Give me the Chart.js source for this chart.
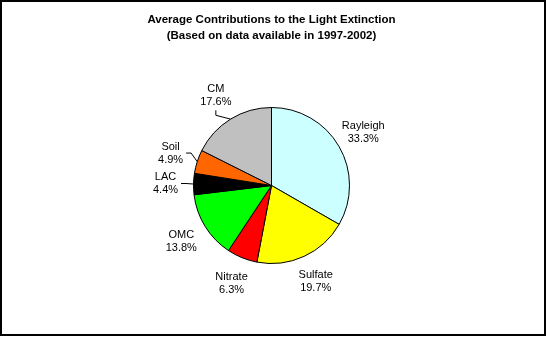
<!DOCTYPE html>
<html>
<head>
<meta charset="utf-8">
<script src="https://cdn.jsdelivr.net/npm/chart.js@4.4.1/dist/chart.umd.min.js"></script>
<style>
  html, body { margin: 0; padding: 0; background: #fff; }
  canvas { display: block; }
</style>
</head>
<body>
<canvas id="extincionChart" width="546" height="338"></canvas>
<script>
// Componentes y su aporte (%) a la extinción de luz
const componentes = ['Rayleigh', 'Sulfate', 'Nitrate', 'OMC', 'LAC', 'Soil', 'CM'];
const aportes = [33.3, 19.7, 6.3, 13.8, 4.4, 4.9, 17.6];
const colores = ['#CCFFFF', '#FFFF00', '#FF0000', '#00FF00', '#000000', '#FF6600', '#C0C0C0'];
const titulo = ['Average Contributions to the Light Extinction', '(Based on data available in 1997-2002)'];
// Etiquetas que llevan línea guía hasta su porción
const conLinea = ['CM', 'Soil', 'LAC'];

const fuente = "'Liberation Sans', Arial, sans-serif";

// Etiquetas fuera del pastel: nombre y porcentaje
const etiquetasPlugin = {
    id: 'etiquetas',
    afterDatasetsDraw(chart) {
        const ctx = chart.ctx;
        const meta = chart.getDatasetMeta(0);
        ctx.save();
        ctx.font = '11px ' + fuente;
        ctx.fillStyle = '#000';
        ctx.textAlign = 'center';
        ctx.textBaseline = 'middle';
        meta.data.forEach((arco, i) => {
            const p = arco.getProps(['x', 'y', 'startAngle', 'endAngle', 'outerRadius'], true);
            const medio = (p.startAngle + p.endAngle) / 2;
            const cos = Math.cos(medio), sin = Math.sin(medio);
            const r = p.outerRadius;
            const dist = r + 28;
            const lx = p.x + cos * dist;
            const ly = p.y + sin * dist;
            const linea1 = componentes[i];
            const linea2 = aportes[i].toFixed(1) + '%';
            ctx.fillText(linea1, lx, ly - 6.5);
            ctx.fillText(linea2, lx, ly + 6.5);

            if (conLinea.includes(componentes[i])) {
                // línea guía: sale del lado de la etiqueta más cercano al pastel
                const w = Math.max(ctx.measureText(linea1).width, ctx.measureText(linea2).width);
                const x0 = p.x + cos * r, y0 = p.y + sin * r;
                let sx, sy, tx, ty;
                if (Math.abs(cos) >= Math.abs(sin)) {
                    const lado = cos < 0 ? 1 : -1;
                    sx = lx + lado * (w / 2 + 3); sy = ly;
                    tx = sx + lado * 5; ty = sy;
                } else {
                    const lado = sin < 0 ? 1 : -1;
                    sx = lx; sy = ly + lado * 15;
                    tx = sx; ty = sy + lado * 5;
                }
                ctx.strokeStyle = '#000';
                ctx.lineWidth = 1;
                ctx.beginPath();
                ctx.moveTo(sx, sy);
                ctx.lineTo(tx, ty);
                ctx.lineTo(x0, y0);
                ctx.stroke();
            }
        });
        ctx.restore();
    }
};

// Marco negro alrededor de todo el gráfico
const marcoPlugin = {
    id: 'marco',
    afterDraw(chart) {
        const ctx = chart.ctx;
        ctx.save();
        ctx.strokeStyle = '#000';
        ctx.lineWidth = 2;
        ctx.strokeRect(1, 1, 544, 334);
        ctx.restore();
    }
};

const ctx = document.getElementById('extincionChart').getContext('2d');
new Chart(ctx, {
    type: 'pie',
    data: {
        labels: componentes,
        datasets: [{
            data: aportes,
            backgroundColor: colores,
            borderColor: '#000000',
            borderWidth: 1
        }]
    },
    options: {
        responsive: false,
        animation: false,
        layout: {
            padding: { left: 0, right: 3, top: 0, bottom: 74 }
        },
        plugins: {
            legend: { display: false },
            tooltip: { enabled: false },
            title: {
                display: true,
                text: titulo,
                color: '#000',
                font: { family: fuente, size: 11.5, weight: 'bold', lineHeight: '16px' },
                padding: { top: 12, bottom: 63 }
            }
        }
    },
    plugins: [etiquetasPlugin, marcoPlugin]
});
</script>
</body>
</html>
